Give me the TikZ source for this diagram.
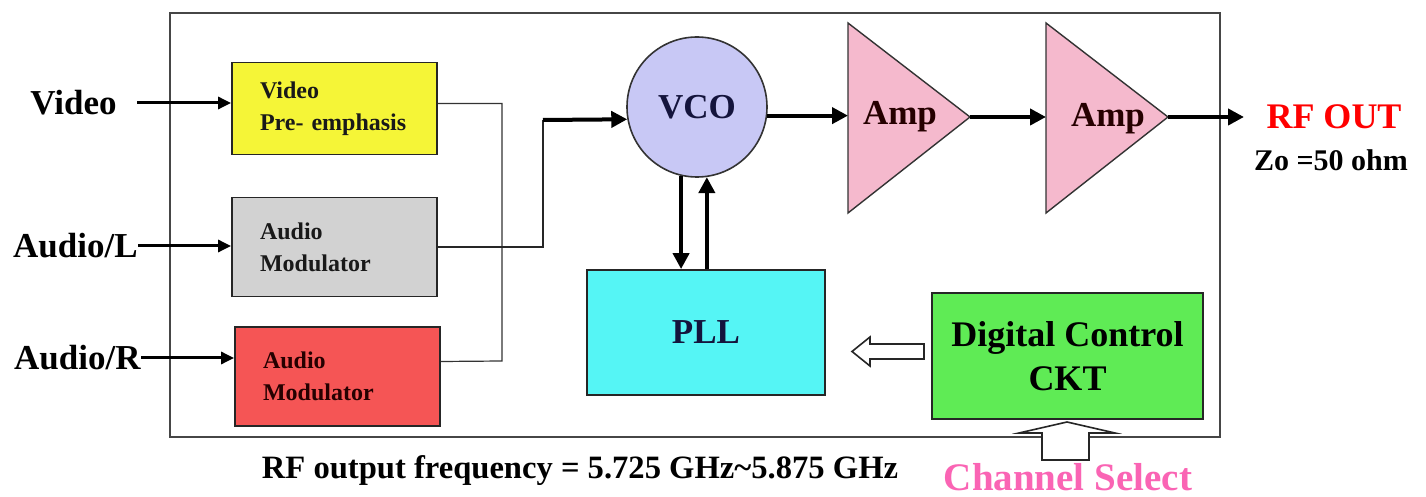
\documentclass[tikz,border=0pt]{standalone}
\usepackage{fontspec}
\setmainfont{Liberation Serif}
\usetikzlibrary{arrows.meta,calc}
\definecolor{cyellow}{RGB}{245,245,55}
\definecolor{cgray}{RGB}{210,210,210}
\definecolor{cred}{RGB}{245,85,85}
\definecolor{cvco}{RGB}{200,200,245}
\definecolor{camp}{RGB}{245,185,205}
\definecolor{ccyan}{RGB}{85,245,245}
\definecolor{cgreen}{RGB}{95,235,85}
\definecolor{cpink}{RGB}{250,100,180}
\definecolor{cnavy}{RGB}{20,20,60}
\definecolor{cframe}{RGB}{70,70,70}
\tikzset{
  blk/.style={draw=black!85, line width=0.9pt, inner xsep=14pt, inner ysep=0pt,
    text width=74.5pt, minimum width=102.5pt, align=left,
    font=\bfseries\fontsize{12}{16}\selectfont, text=black!90},
  lbl/.style={inner sep=0pt, font=\bfseries\fontsize{17.5}{20}\selectfont},
  inarr/.style={line width=1.5pt, -{Triangle[length=6.5pt,width=6pt]}},
  thk/.style={line width=2pt, -{Triangle[length=8pt,width=8pt]}},
  thinl/.style={line width=0.6pt, draw=black!80},
  midl/.style={line width=0.9pt, draw=black!85},
  hollow/.style={draw=black!85, line width=0.8pt, fill=white, line join=miter},
  ampst/.style={draw=black!80, line width=0.7pt, fill=camp}
}
\begin{document}
\begin{tikzpicture}[x=0.5pt,y=-0.5pt]
\useasboundingbox[fill=white] (0,0) rectangle (1426,497);

% outer frame
\node[draw=cframe, line width=1pt, minimum width=525pt, minimum height=212pt, inner sep=0] (frame) at (695,225) {};

% input labels
\node[lbl, anchor=east] (vin) at (117,103) {Video};
\node[lbl, anchor=east] (lin) at (138,246) {Audio/L};
\node[lbl, anchor=east] (rin) at (141,358) {Audio/R};

% left boxes
\node[blk, fill=cyellow, minimum height=46pt] (vpe) at (334.5,108.5) {Video\\\mbox{Pre- emphasis}};
\node[blk, fill=cgray, minimum height=49.5pt] (amL) at (334.5,247) {Audio\\Modulator};
\node[blk, fill=cred, minimum height=49.5pt, text=black!85!red] (amR) at (337.5,376.5) {Audio\\Modulator};

\draw[inarr] ($(vin.east)+(20,0)$) -- (vin.east -| vpe.west);
\draw[inarr] (lin.east) -- (lin.east -| amL.west);
\draw[inarr] (rin.east) -- (rin.east -| amR.west);

% VCO
\node[circle, draw=black!80, line width=0.8pt, fill=cvco, minimum size=70pt, inner sep=0,
  font=\bfseries\fontsize{17.5}{20}\selectfont, text=cnavy] (vco) at (697,107) {VCO};

% combining lines
\coordinate (bus) at (502,361);
\coordinate (j2) at (543,120);
\draw[thinl] ($(vpe.east)+(0,-5)$) -| (bus) -- ($(amR.east)+(0,-15)$);
\draw[midl] (amL.east) -| (j2);
\draw[thk] (j2) -- (vco.190.7);

% amplifiers
\coordinate (a1t) at (848,23);
\coordinate (a1b) at (848,213);
\coordinate (a1o) at (970,117);
\coordinate (a2t) at (1046,23);
\coordinate (a2b) at (1046,213);
\coordinate (a2o) at (1168,117);
\draw[ampst] (a1t) -- (a1o) -- (a1b) -- cycle;
\draw[ampst] (a2t) -- (a2o) -- (a2b) -- cycle;
\node[lbl, text=black!85!red] (amp1) at (900,117) {Amp};
\node[lbl, text=black!85!red] (amp2) at (1108,119) {Amp};

\draw[thk] (vco.-7.4) -- (vco.-7.4 -| a1t);
\draw[thk] (a1o) -- (a1o -| a2t);
\coordinate (outpt) at (1244,117);
\draw[thk] (a2o) -- (outpt);

\node[lbl, text=red, font=\bfseries\fontsize{18}{20}\selectfont] (rfout) at (1334,117) {RF OUT};
\node[lbl, font=\bfseries\fontsize{15}{18}\selectfont] (zo) at (1331,160) {Zo =50 ohm};

% PLL
\node[draw=black!85, line width=0.9pt, fill=ccyan, minimum width=119pt, minimum height=62.5pt, inner sep=0,
  font=\bfseries\fontsize{17.5}{20}\selectfont, text=cnavy] (pll) at (706,332.5) {PLL};
\draw[thk] (vco.257.6) -- (vco.257.6 |- pll.north);
\draw[thk] (pll.north -| vco.278.2) -- (vco.278.2);

% digital control
\node[draw=black!85, line width=0.9pt, fill=cgreen, minimum width=135.5pt, minimum height=63pt, inner sep=0,
  align=center, font=\bfseries\fontsize{18}{22}\selectfont] (dc) at (1067.5,356) {Digital Control\\CKT};

% hollow arrows
\draw[hollow] (924,344) -- (870,344) -- (870,337) -- (852,351.5) -- (870,366) -- (870,359) -- (924,359) -- cycle;
\draw[hollow] (1042,460) -- (1042,433) -- (1019,433) -- (1067,422) -- (1115,433) -- (1089,433) -- (1089,460) -- cycle;

% bottom texts
\node[lbl, font=\bfseries\fontsize{16.3}{18}\selectfont] (freq) at (580,471) {RF output frequency = 5.725 GHz\textasciitilde 5.875 GHz};
\node[lbl, text=cpink, font=\bfseries\fontsize{19.5}{22}\selectfont] (chs) at (1068,477) {Channel Select};
\end{tikzpicture}
\end{document}
